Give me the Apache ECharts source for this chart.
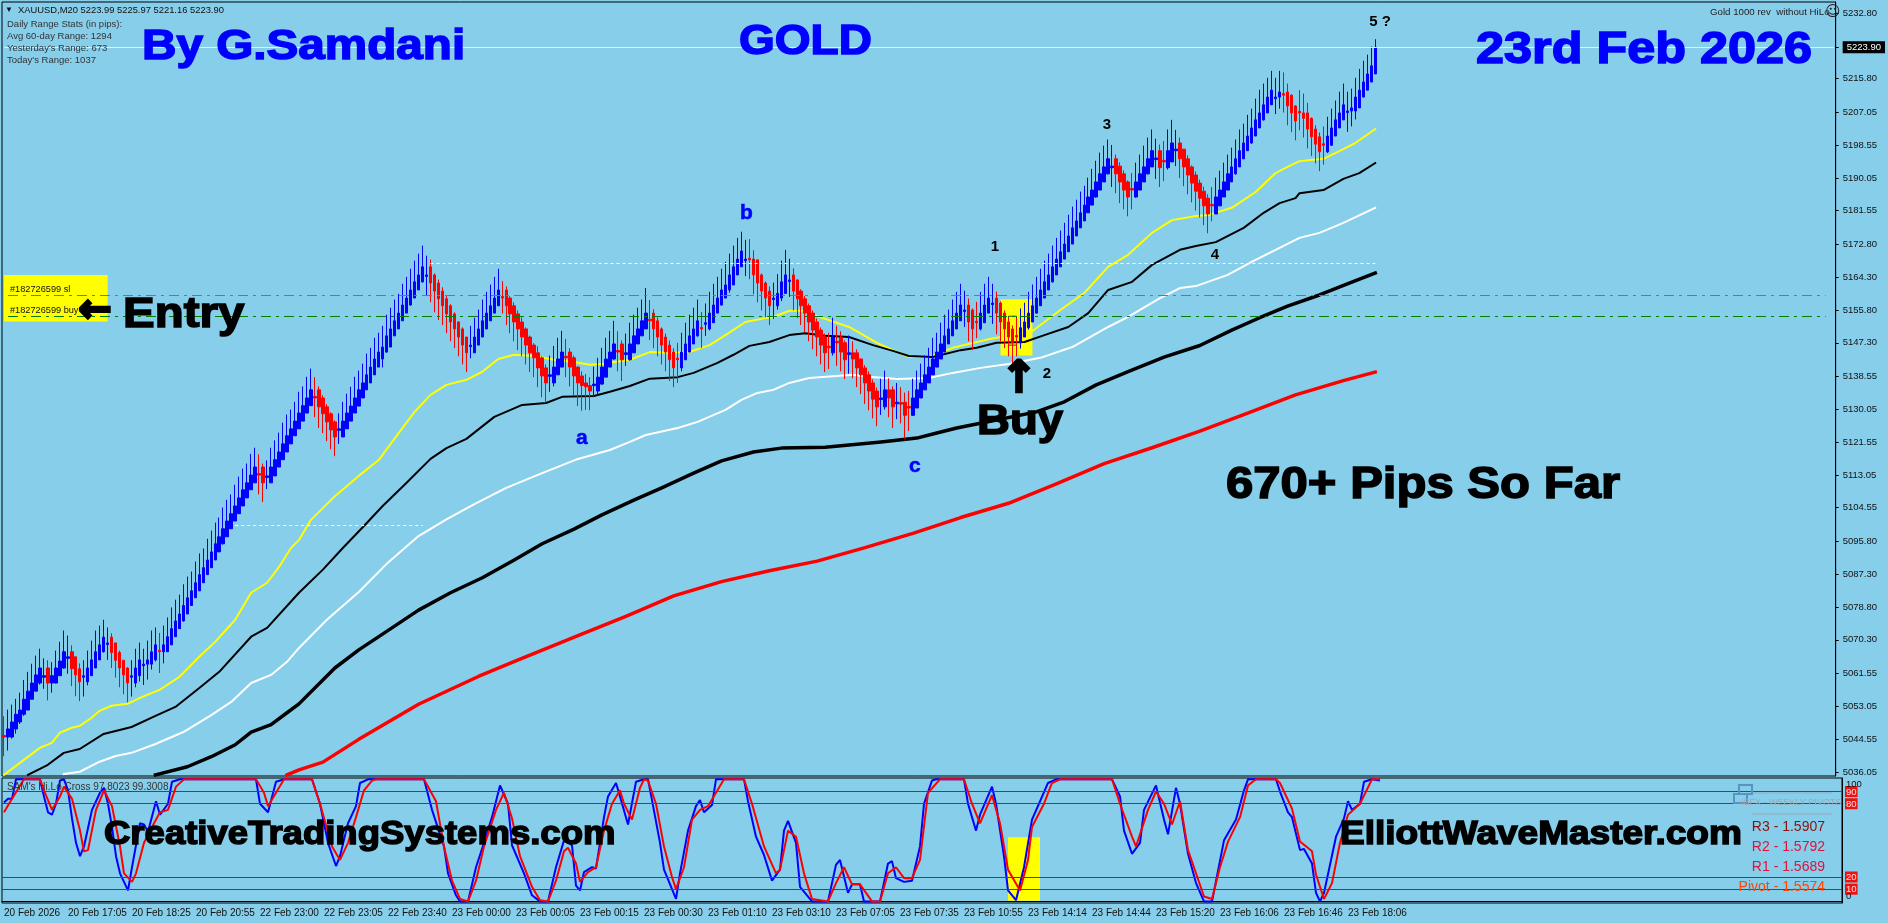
<!DOCTYPE html>
<html><head><meta charset="utf-8">
<style>html,body{margin:0;padding:0;background:#87CEEB}#c{width:1888px;height:923px}</style>
<script src="https://cdn.jsdelivr.net/npm/echarts@6/dist/echarts.min.js"></script>
</head><body><div id="c"></div>
<script>
const timeLabels=["20 Feb 2026","20 Feb 17:05","20 Feb 18:25","20 Feb 20:55","22 Feb 23:00","22 Feb 23:05","22 Feb 23:40","23 Feb 00:00","23 Feb 00:05","23 Feb 00:15","23 Feb 00:30","23 Feb 01:10","23 Feb 03:10","23 Feb 07:05","23 Feb 07:35","23 Feb 10:55","23 Feb 14:14","23 Feb 14:44","23 Feb 15:20","23 Feb 16:06","23 Feb 16:46","23 Feb 18:06"];
const priceTicks=[5232.80,5223.90,5215.80,5207.05,5198.55,5190.05,5181.55,5172.80,5164.30,5155.80,5147.30,5138.55,5130.05,5121.55,5113.05,5104.55,5095.80,5087.30,5078.80,5070.30,5061.55,5053.05,5044.55,5036.05];
const oscTicks=[10,20,80,90];
const oscLevels=[90,80,20,10];
const lastPrice=5223.90, slPrice=5159.7, buyPrice=5154.2, upperDotted=5167.9, lowerDotted=5100.1;
const closes=[
5045.1,5047.2,5049,5051,5052.1,5054.9,5057,5059.1,5061.2,5063,5061,5059.1,5061,5063,5064.8,
5067.2,5065.9,5062.8,5061.2,5059.4,5061,5063,5065.1,5067.2,5069,5071,5069.5,5067,5065,5063,
5061.2,5059.1,5061,5063,5065.1,5064,5065.1,5067.2,5069,5067.2,5069,5071.1,5073.2,5075.2,5077,
5079.2,5081.2,5083,5085.1,5087.2,5089,5091,5093.1,5095.2,5097,5099.1,5101.1,5103,5105,5107.1,
5109.2,5111,5113,5115.1,5113,5111,5112.8,5115.1,5117,5119,5121.1,5123.2,5125,5127,5129.1,
5131,5133,5135.1,5133,5130.7,5128.9,5126.8,5124.7,5122.9,5125,5127,5129.1,5130.9,5133,5135.1,
5136.9,5139,5141,5143.1,5144.9,5146.2,5149.1,5150.9,5153,5155,5157.1,5158.9,5161,5163.1,5164.9,
5167,5164.9,5162.8,5160.7,5158.7,5156.9,5154.8,5152.7,5150.9,5148.8,5146.7,5144.7,5146.7,5148.8,5150.9,
5153,5155,5156.9,5158.9,5161,5158.9,5156.9,5154.8,5152.7,5150.9,5148.8,5146.7,5144.7,5143.4,5140.8,
5138.7,5136.9,5139,5141,5143.1,5144.9,5143.4,5141,5138.7,5136.9,5136.2,5135.9,5134.8,5136.6,5138.4,
5141,5143.1,5144.9,5147,5144.9,5142.9,5144.7,5147,5149.1,5150.9,5153,5155,5153,5150.9,5148.8,
5146.7,5144.9,5142.9,5140.8,5142.9,5144.9,5147,5149.1,5150.9,5153,5150.9,5152.5,5155,5157.1,5158.9,
5161,5162.3,5164.9,5167,5169,5171.1,5169,5168.8,5164.9,5162.8,5160.7,5158.9,5156.9,5158.9,5160.1,
5163.1,5164.9,5163.6,5160.7,5158.7,5156.9,5155,5152.7,5150.6,5148.8,5146.7,5144.7,5146,5148.8,5147.3,
5144.9,5142.9,5144.7,5143.1,5140.8,5139,5136.9,5134.8,5132.7,5130.7,5133,5135.1,5133,5130.7,5131.9,
5131.4,5128.5,5130.4,5133,5135.1,5136.9,5139,5141,5143.1,5144.9,5147,5149.1,5150.9,5153,5155,
5157.1,5155.8,5152.7,5150.9,5152.5,5155,5157.1,5158.9,5157.6,5155,5152.7,5150.9,5148.8,5147.3,5148.8,
5151.2,5152.7,5155,5156.9,5158.9,5161,5163.1,5164.9,5167,5169,5170.9,5172.9,5175,5177.1,5178.9,
5181,5183,5185.1,5186.9,5189,5191.1,5192.9,5195,5193.1,5191.1,5189,5186.9,5185.1,5186.9,5189,
5191.1,5192.9,5195,5197.1,5195.2,5192.7,5194.2,5197.1,5199.1,5197.5,5195,5192.9,5190.8,5188.7,5186.6,
5184.8,5182.8,5180.7,5182.8,5185.1,5186.9,5189,5191.1,5192.9,5195,5197.1,5199.1,5200.9,5203,5205.1,
5206.9,5209,5211,5212.8,5211,5212.3,5211.5,5208.7,5206.9,5204.8,5206.9,5205.5,5202.7,5200.7,5198.8,
5196.8,5198.5,5200.9,5203,5205.1,5206.9,5209,5207.4,5208.2,5211,5212.8,5214.9,5217,5219.1,5223.9];
const dojiUp=[10,16,20,26,32,35,66,84,106,117,137,148,156,176,186,193,197,212,220,224,241,248,278,289,294,319,337];
const dojiDown=[0,39,64,78,125,141,154,162,169,175,187,207,209,225,227,244,254,283,291,303,321,325,331];
const upperWick=[
5,5,4.5,4,4.5,5,5,5,5,5,4.5,4,3.5,4.5,5,
5.5,5.5,3,2.5,3,4,4.5,5,5.5,5,4.5,4,2.5,2.5,2.5,
2,2,4,5,4.5,4,5,5.5,4.5,4.5,5,5,5.5,5.5,5,
5.5,5.5,5,5.5,5.5,5,5.5,5.5,5.5,5,5.5,5.5,5,5.5,5.5,
5.5,5,5.5,5,5,3,4,5,5,5,5.5,5.5,5,5,5.5,
5,5.5,5.5,5,3,3,2.5,2.5,2.5,4,5,5,5,5.5,5,
5,5.5,5,5.5,5,5.5,5.5,5.5,5.5,5,5.5,5.5,5.5,5.5,5.5,
5.5,5,4,2.5,3,3,2.5,2.5,2.5,2,2.5,2,5,5,5,
5.5,5.5,5.5,5.5,5.5,4,3,2.5,3,3,3,2.5,2.5,2.5,3,
3,3,5,5.5,5.5,5.5,4.5,2.5,3,2.5,3,3,2.5,4.5,5,
5,5.5,5.5,6,5,3,5,5.5,5.5,5.5,5.5,6.5,5,3,3,
2.5,3,3,3,4,5,5.5,5.5,5.5,5.5,4,5,5.5,5.5,5.5,
5.5,6,5.5,5.5,5.5,5,5,5,2.5,3,2.5,2.5,3,4,5,
5.5,6.5,5.5,3,3,2.5,2.5,2.5,3,3,2.5,3,3.5,5,4,
3,3,4.5,3,2.5,2.5,2.5,3,3,3,5,5,3,3,5,
4,3,4,5,5,5,5,5,5.5,5,5.5,5.5,5,5.5,5.5,
5.5,5,3,3.5,5,5.5,5.5,5.5,5,3,3,3,3,3,4.5,
5,5,5.5,5.5,5.5,5.5,5.5,5.5,5.5,5.5,5.5,5.5,5.5,5.5,5.5,
5.5,5,5,5.5,5.5,5.5,5.5,5,5.5,3,3,3,2.5,4,5,
5,5.5,5.5,5.5,5,3.5,5,5.5,6,5,3,2.5,3,2.5,3,
3,3,3,4.5,5,5,5,5,5,5,5.5,5,5.5,5,5.5,
6,5.5,5,5,5,5.5,5.5,3,3,2,5.5,5,4,3,3,
3,4.5,5,5,5,5.5,5.5,5,5,5,5.5,5.5,5,5,2.1];
const lowerWick=[
5,3.5,2.5,3,2.5,1.5,1.5,1.5,2,2.5,3,4.5,2.5,2,2,
2,4,4.5,5.5,5,5,2.5,2,2,1.5,2,4,4,4.5,5,
5,5,5,3,3.5,5,4,2.5,2.5,5.5,3,1.5,1.5,1.5,1.5,
2,1.5,2,1.5,1.5,2,1.5,2,1.5,1.5,2,1.5,2,1.5,1.5,
2,1.5,1.5,1.5,5,5,3,1.5,2,1.5,1.5,1.5,2,1.5,1.5,
1.5,2,2,5,5.5,5,5,5,5,3.5,2,1.5,2,1.5,1.5,
2,1.5,2,1.5,2,4,1.5,2,1.5,1.5,2,1.5,2,1.5,1.5,
2,5,5,5.5,5.5,5,5,5,5,5,5,5,3,2,2,
1.5,1.5,2,1.5,2,4,5,5,5,5.5,5,5,5,5,5,
5.5,5,4,3,2,2,5,5,5,6,6.5,6,5,3,3,
2,2,2,2,5,5.5,3,2,1.5,2,1.5,2,5,5,5,
5,5,5.5,5,6,3,2,1.5,2,2,5,3,2,1.5,2,
2,1.5,2,1.5,2,2,4,5,5,5,5,5,5,5,3,
2,2,4,5,5,5,5,5,5,5,5,5,5.5,2,6,
5,5,5,5,5,5,5.5,5,5,5,4,3,5,5.5,4,
5,6,6,2,2,2,1.5,2,1.5,2,1.5,2,1.5,1.5,2,
2,4,5,5.5,4,2,1.5,2,5,5.5,5,5,5,5.5,5,
3,2,2,1.5,2,1.5,2,1.5,2,1.5,2,1.5,2,1.5,2,
1.5,2,2,1.5,2,1.5,2,2,5,5,5.5,5,5,5,2,
2,2,2,1.5,5,5,5,2,2,4,5,5,5,5,5,
5,5,5,4,2,2,1.5,2,1.5,2,1.5,2,1.5,2,1.5,
2,2,2,2,4,3,4.5,5,5,5,4.5,5,5,5,5,
5,5,2,2,1.5,2,1.5,5,4,3,2,1.5,2,1.5,1];
const yellowMA=[[0,5035.3],[4,5038.4],[9,5042.3],[12,5043.6],[14,5046.2],[17,5047.5],[19,5048],[22,5050.1],[24,5051.9],[27,5053.2],[31,5053.7],[34,5055.2],[37,5056.5],[39,5057.3],[44,5060.7],[49,5065.9],[53,5069.8],[58,5075.5],[62,5082.5],[66,5085.1],[69,5089.2],[72,5094.1],[74,5096.2],[77,5101.4],[83,5107.5],[89,5112.8],[94,5116.9],[99,5123.9],[103,5129.4],[107,5133.8],[111,5136.4],[116,5137.7],[120,5139.8],[124,5143.1],[128,5144.2],[133,5143.9],[138,5142.9],[143,5142.3],[147,5141.6],[150,5141.8],[157,5142.9],[162,5144.9],[167,5144.7],[172,5144.9],[177,5146.7],[181,5149.3],[186,5152.7],[191,5153.7],[193,5154],[197,5155.6],[200,5155.6],[206,5153.5],[212,5151.4],[219,5147.3],[223,5145.4],[227,5143.6],[232,5143.6],[238,5146],[246,5148],[250,5148.8],[257,5149.6],[265,5155.8],[271,5160.2],[277,5167],[282,5170.1],[288,5175.8],[293,5179.1],[299,5180.2],[302,5180.4],[308,5182.3],[314,5186.4],[319,5191.3],[322,5192.9],[325,5194.4],[331,5195],[336,5197.5],[339,5199.1],[344,5202.7]];
const blackMA=[[6,5035.3],[11,5037.9],[15,5041],[19,5042],[25,5045.9],[32,5047.7],[38,5050.6],[43,5052.9],[49,5057.8],[54,5062],[62,5071.1],[66,5073.4],[74,5082.5],[80,5088.5],[85,5094.1],[90,5099.5],[95,5105],[101,5111],[107,5117.2],[111,5120],[116,5122.4],[123,5128.1],[130,5131.2],[136,5131.7],[140,5133.3],[148,5133.5],[152,5134.6],[157,5136.1],[162,5138],[169,5138.4],[173,5139.5],[179,5142.1],[183,5144.2],[187,5146.5],[192,5147.5],[197,5149.3],[201,5149.8],[206,5149.1],[212,5148.8],[218,5146.7],[223,5145.2],[227,5143.9],[233,5143.6],[240,5145.4],[244,5146],[249,5147.3],[256,5147.5],[261,5149.3],[267,5151.4],[272,5155],[277,5161],[283,5163.1],[288,5167.5],[295,5171.4],[299,5172.4],[304,5173.4],[311,5177.1],[316,5181],[320,5183.5],[324,5184.8],[325,5186.1],[331,5186.9],[336,5189.8],[340,5191.3],[344,5193.9]];
const whiteMA=[[15,5035.5],[19,5036.1],[24,5038.7],[28,5040.2],[32,5041],[38,5043.3],[45,5046.4],[52,5050.8],[57,5054.2],[62,5059.1],[67,5061.2],[71,5064.6],[74,5068.2],[81,5075.5],[89,5082.7],[96,5090],[104,5097.2],[111,5101.5],[118,5105.5],[126,5109.7],[135,5113.5],[144,5117.2],[152,5119.5],[157,5121.6],[161,5123.4],[169,5125.2],[174,5126.8],[181,5129.9],[185,5132.5],[189,5134.3],[193,5135.1],[197,5136.9],[202,5138.2],[213,5139],[217,5138.5],[224,5137.9],[232,5138.2],[238,5139.5],[245,5140.8],[252,5141.8],[260,5143.4],[268,5146.2],[277,5151.4],[282,5154],[290,5158.9],[295,5161.5],[299,5162],[307,5164.9],[313,5168.3],[319,5171.4],[325,5174.5],[330,5175.8],[336,5178.4],[344,5182.3]];
const thickBlackMA=[[38,5035.3],[46,5037.4],[52,5040],[58,5043.1],[62,5046.4],[67,5048.3],[71,5051.4],[74,5053.7],[83,5063],[89,5067.7],[96,5072.5],[104,5078],[112,5082.5],[120,5086.4],[128,5091],[135,5095.2],[143,5099],[150,5102.7],[158,5106.5],[165,5109.7],[173,5113.5],[180,5116.7],[188,5119],[195,5120],[206,5120.2],[212,5120.8],[220,5121.6],[229,5122.6],[234,5123.9],[239,5125.2],[249,5127.3],[259,5129.4],[266,5132],[274,5136.4],[282,5139.8],[291,5143.6],[300,5146.6],[308,5150.6],[315,5153.8],[322,5156.8],[330,5159.7],[337,5162.6],[344,5165.4]];
const redMA=[[71,5035.3],[74,5036.6],[80,5038.6],[89,5044.5],[104,5053.6],[119,5060.8],[129,5065.1],[144,5071.4],[156,5076.4],[168,5081.7],[180,5085.4],[192,5088.2],[204,5090.7],[216,5094.2],[228,5097.9],[240,5102],[252,5105.7],[264,5110.7],[276,5116],[288,5120.1],[300,5124.4],[312,5129.1],[324,5133.8],[336,5137.5],[344,5139.7]];
const oscFast=[[0,81],[1,84],[2,84],[3,100],[5,100],[9,100],[10,86],[11,73],[12,71],[13,80],[14,99],[15,100],[16,91],[17,68],[18,48],[19,37],[20,45],[22,75],[24,89],[25,93],[26,80],[27,61],[28,37],[29,23],[31,9],[32,28],[34,64],[35,63],[36,57],[38,82],[39,71],[41,80],[42,98],[44,100],[63,100],[64,80],[66,73],[68,98],[70,100],[77,100],[79,80],[81,48],[83,29],[84,37],[86,64],[88,78],[89,97],[91,100],[105,100],[107,75],[110,45],[111,23],[113,5],[114,0],[116,0],[118,28],[120,48],[122,69],[124,95],[126,80],[127,46],[130,23],[132,5],[134,0],[136,0],[138,28],[140,50],[142,46],[143,13],[144,9],[145,24],[147,28],[148,27],[150,69],[151,86],[153,97],[154,86],[156,63],[158,98],[160,100],[161,100],[162,83],[164,48],[165,26],[168,2],[169,23],[171,58],[173,78],[174,83],[175,73],[177,79],[178,100],[180,100],[185,100],[186,82],[188,53],[190,38],[192,17],[194,26],[195,58],[196,66],[198,48],[199,12],[202,0],[206,0],[208,30],[209,34],[211,7],[212,14],[214,14],[215,0],[219,0],[221,31],[222,33],[223,19],[225,16],[227,17],[229,45],[230,80],[232,99],[233,100],[240,100],[241,80],[243,58],[244,71],[247,94],[248,80],[250,37],[251,9],[253,1],[255,28],[257,67],[259,82],[261,97],[263,100],[277,100],[279,86],[280,58],[282,39],[284,48],[285,75],[288,95],[290,67],[291,55],[293,93],[294,80],[296,39],[298,15],[300,0],[302,0],[305,50],[308,67],[310,91],[311,100],[318,100],[319,90],[321,73],[322,69],[324,42],[325,43],[327,31],[328,7],[329,0],[330,7],[333,53],[335,68],[336,82],[337,75],[339,80],[340,98],[342,100],[344,99]];
const oscSlow=[[0,73],[2,84],[5,100],[9,100],[10,91],[12,75],[14,86],[15,94],[17,84],[19,58],[20,41],[21,42],[23,75],[25,91],[27,78],[29,45],[30,23],[32,16],[33,23],[35,48],[37,61],[39,73],[41,75],[43,94],[45,100],[63,100],[65,89],[66,78],[68,89],[70,100],[77,100],[79,80],[82,45],[84,34],[86,48],[88,69],[90,91],[92,99],[93,100],[105,100],[108,82],[110,45],[112,17],[114,2],[116,0],[118,17],[120,45],[123,75],[125,89],[127,68],[129,37],[132,12],[134,1],[136,0],[138,17],[140,41],[141,44],[143,31],[144,16],[146,24],[148,28],[150,58],[152,80],[154,91],[155,80],[157,67],[159,93],[160,100],[161,99],[163,80],[165,45],[167,20],[168,10],[170,28],[172,67],[174,75],[176,78],[180,100],[185,100],[187,80],[190,45],[193,23],[194,26],[196,58],[198,53],[200,23],[202,2],[206,0],[208,15],[210,28],[212,14],[214,14],[217,0],[219,0],[221,23],[223,28],[225,19],[227,19],[229,34],[231,89],[234,100],[240,100],[242,80],[244,64],[247,87],[249,64],[251,26],[254,9],[256,34],[257,61],[260,80],[262,97],[264,100],[277,100],[279,80],[282,53],[283,45],[286,75],[288,90],[290,80],[292,63],[294,82],[296,42],[300,4],[302,2],[304,28],[306,49],[309,69],[311,95],[313,100],[318,100],[319,97],[322,76],[324,49],[327,41],[328,22],[330,2],[332,15],[334,48],[336,71],[339,80],[342,100],[344,100]];
const headerText="XAUUSD,M20 5223.99 5225.97 5221.16 5223.90";
const statsText=["Daily Range Stats (in pips):","Avg 60-day Range: 1294","Yesterday's Range: 673","Today's Range: 1037"];
const orderText=["#182726599 sl","#182726599 buy"];
const pivotText=["R3 - 1.5907","R2 - 1.5792","R1 - 1.5689","Pivot - 1.5574"];

const BARS=closes.length, SLOTS=460;
const cats=Array.from({length:SLOTS},(_,i)=>i%16===0&&timeLabels[i/16]?timeLabels[i/16]:'');
// Bodies in the picture span two stair steps while a leg runs on, one step right after a turn.
const candles=closes.map((c,i)=>{
  const prev=i?closes[i-1]:c, prev2=i>1?closes[i-2]:prev;
  const step=c-prev, last=prev-prev2;
  let o=(step*last>0)?prev2:prev, near=prev;
  if(dojiUp.includes(i)){o=c-0.4;near=o;}
  if(dojiDown.includes(i)){o=c+0.4;near=o;}
  const low=Math.min(Math.min(near,c)-lowerWick[i],o,c);
  const high=Math.max(Math.max(near,c)+upperWick[i],o,c);
  return [o,c,low,high];
});
const F='"Liberation Sans",Arial,sans-serif';
function big(text,x,y,size,scaleX,color,align,lw,font){return {type:'text',x,y,scaleX,z:50,silent:true,style:{text,fontFamily:font||F,fontSize:size,fontWeight:'bold',fill:color||'#000',stroke:color||'#000',lineWidth:lw==null?1.5:lw,textAlign:align||'left',textVerticalAlign:'middle'}};}
function small(text,x,y,opt){opt=opt||{};return {type:'text',x,y,z:50,silent:true,style:{text,fontFamily:opt.font||F,fontSize:opt.size||10,fontWeight:opt.weight||'normal',fill:opt.color||'#111',textAlign:opt.align||'left',textVerticalAlign:'middle'}};}
const graphics=[
 big('By G.Samdani',142,47,42,1.135,'#0000ff'),
 big('GOLD',739,42,43,1.07,'#0000ff'),
 big('23rd Feb 2026',1476,51,44,1.145,'#0000ff'),
 big('Entry',123,315,42,1.13),
 big('\u2190',95,312,40,1,'#000','center',2.5,'"DejaVu Sans"'),
 big('Buy',977,422,43,1.06),
 big('\u2191',1019,381,44,1,'#000','center',2.5,'"DejaVu Sans"'),
 big('670+ Pips So Far',1226,486,44,1.115),
 big('CreativeTradingSystems.com',104,835,33.5,1.09),
 big('ElliottWaveMaster.com',1340,835,33.5,1.105),
 big('a',576,438,20,1.05,'#0000ff','left',0.5),big('b',740,213,20,1.05,'#0000ff','left',0.5),big('c',909,466,20,1.05,'#0000ff','left',0.5),
 big('1',995,247,15,1,'#000','center',0),big('2',1047,374,15,1,'#000','center',0),big('3',1107,125,15,1,'#000','center',0),big('4',1215,255,15,1,'#000','center',0),big('5 ?',1380,22,15,1,'#000','center',0),
 small('\u25BC',5,10,{size:8}),
 small(headerText,18,10.5,{size:9.4}),
 ...statsText.map((t,i)=>small(t,7,24+12*i,{size:9.5,color:'#333'})),
 small(orderText[0],10,289,{size:9.2}),small(orderText[1],10,310,{size:9.2}),
 small('Gold 1000 rev  without HiLo',1710,12,{size:9.7,color:'#222'}),
 small('\u263A',1825,12,{size:15,font:'"DejaVu Sans"',color:'#222'}),
 small("SAM's Hi.Lo Cross 97.8023 99.3008",7,787,{size:10,color:'#333'}),
 small('100',1846,784,{size:9.5}),small('0',1846,896,{size:9.5}),
 ...pivotText.map((t,i)=>small(t,1825,827+20*i,{size:14,align:'right',color:['#8b1010','#dc143c','#dc143c','#ff4500'][i]})),
 small('IBFX - WEEKLY PIVOTS',1741,803,{size:9,color:'#9aa9b5'}),
 {type:'line',z:20,silent:true,shape:{x1:1752,y1:793,x2:1832,y2:793},style:{stroke:'#9aa9b5',lineWidth:1}},
 {type:'line',z:20,silent:true,shape:{x1:1752,y1:814,x2:1832,y2:814},style:{stroke:'#9aa9b5',lineWidth:1}},
 {type:'rect',z:20,silent:true,shape:{x:1739,y:785,width:13,height:9},style:{fill:'transparent',stroke:'#5a93c0',lineWidth:2}},
 {type:'rect',z:20,silent:true,shape:{x:1734,y:794,width:13,height:9},style:{fill:'transparent',stroke:'#5a93c0',lineWidth:2}}
];
function ma(name,data,color,width,z){return {name,type:'line',data,xAxisIndex:0,yAxisIndex:0,showSymbol:false,symbol:'none',silent:true,z:z||3,lineStyle:{color,width,cap:'square',join:'round'}};}
const hLine=(y,a,b,color,type)=>[{coord:[a,y],lineStyle:{color,width:1,type}},{coord:[b,y]}];
const option={
 animation:false,backgroundColor:'#87CEEB',graphic:graphics,
 grid:[{left:2,right:46,top:2,height:774,show:true,borderColor:'#000',borderWidth:1,backgroundColor:'transparent'},
       {left:2,right:46,top:778,height:125,show:true,borderColor:'#000',borderWidth:1,backgroundColor:'transparent'}],
 xAxis:[
  {type:'category',gridIndex:0,data:cats,boundaryGap:true,axisLine:{show:false},axisTick:{show:false},axisLabel:{show:false},splitLine:{show:false}},
  {type:'category',gridIndex:1,data:cats,boundaryGap:true,axisLine:{lineStyle:{color:'#000'}},
   axisTick:{alignWithLabel:true,length:3,lineStyle:{color:'#000'},interval:i=>i%16===0&&i<BARS},
   axisLabel:{interval:i=>i%16===0&&i<BARS,align:'left',margin:5,fontFamily:F,fontSize:10,color:'#111',hideOverlap:false},splitLine:{show:false}}],
 yAxis:[
  {type:'value',gridIndex:0,position:'right',min:5035.0,max:5235.65,axisLine:{show:true,lineStyle:{color:'#000'}},
   axisTick:{show:true,length:3,customValues:priceTicks,lineStyle:{color:'#000'}},
   axisLabel:{customValues:priceTicks,margin:7,fontFamily:F,fontSize:9.5,color:'#111',
     formatter:v=>Math.abs(v-lastPrice)<1e-6?'{cur|'+v.toFixed(2)+'}':v.toFixed(2),
     rich:{cur:{backgroundColor:'#000',color:'#fff',fontFamily:F,fontSize:9.5,padding:[1,4,1,4]}}},splitLine:{show:false}},
  {type:'value',gridIndex:1,position:'right',min:-1.3,max:101.07,axisLine:{show:true,lineStyle:{color:'#000'}},
   axisTick:{show:false},
   axisLabel:{customValues:oscTicks,margin:3,fontFamily:F,fontSize:9.5,color:'#111',
     formatter:v=>'{box|'+v+'}',
     rich:{box:{backgroundColor:'#ee1111',color:'#ffe0e0',fontFamily:F,fontSize:9.5,padding:[1,1,0,1]}}},splitLine:{show:false}}],
 series:[
  {name:'annotations',type:'line',xAxisIndex:0,yAxisIndex:0,data:[],z:1,silent:true,symbol:'none',
   markArea:{silent:true,itemStyle:{color:'#ffff00'},data:[
     [{coord:[0,5164.9]},{coord:[26,5152.8]}],
     [{coord:[250,5158.6]},{coord:[258,5144.0]}],
     [{coord:[252,5154.2],itemStyle:{color:'transparent',borderColor:'#006400',borderWidth:1}},{coord:[254,5146.7]}]]},
   markLine:{silent:true,symbol:'none',label:{show:false},animation:false,data:[
     hLine(lastPrice,0,459,'#f4ff70','solid'),
     hLine(slPrice,1,457,'#d9542b',[10,5,3,5]),
     hLine(buyPrice,1,457,'#008000',[10,5,3,5]),
     hLine(upperDotted,107,344,'#ffffff',[3,3]),
     hLine(lowerDotted,58,105,'#ffffff',[3,3])]}},
  ma('MA yellow',yellowMA,'#ffff00',2),
  ma('MA black',blackMA,'#000000',2),
  ma('MA white',whiteMA,'#ffffff',2),
  ma('MA thick black',thickBlackMA,'#000000',3.5),
  ma('MA red',redMA,'#ff0000',3.5),
  {name:'XAUUSD',type:'candlestick',xAxisIndex:0,yAxisIndex:0,data:candles,barWidth:3,z:4,silent:true,large:false,
   itemStyle:{color:'#0000ff',color0:'#ff0000',borderColor:'#0000ff',borderColor0:'#ff0000',borderWidth:1}},
  {name:'levels',type:'line',xAxisIndex:1,yAxisIndex:1,data:[],z:1,silent:true,symbol:'none',
   markArea:{silent:true,itemStyle:{color:'#ffff00'},data:[[{coord:[251,52.5]},{coord:[259,0.5]}]]},
   markLine:{silent:true,symbol:'none',label:{show:false},animation:false,lineStyle:{color:'#d01010',width:1,type:'solid'},
     data:oscLevels.map(v=>({yAxis:v}))}},
  {name:'Fast',type:'line',xAxisIndex:1,yAxisIndex:1,data:oscFast,showSymbol:false,symbol:'none',silent:true,z:3,lineStyle:{color:'#0000ff',width:2}},
  {name:'Slow',type:'line',xAxisIndex:1,yAxisIndex:1,data:oscSlow,showSymbol:false,symbol:'none',silent:true,z:4,lineStyle:{color:'#ff0000',width:2}}
 ]};
echarts.init(document.getElementById('c'),null,{renderer:'canvas'}).setOption(option);
</script></body></html>
